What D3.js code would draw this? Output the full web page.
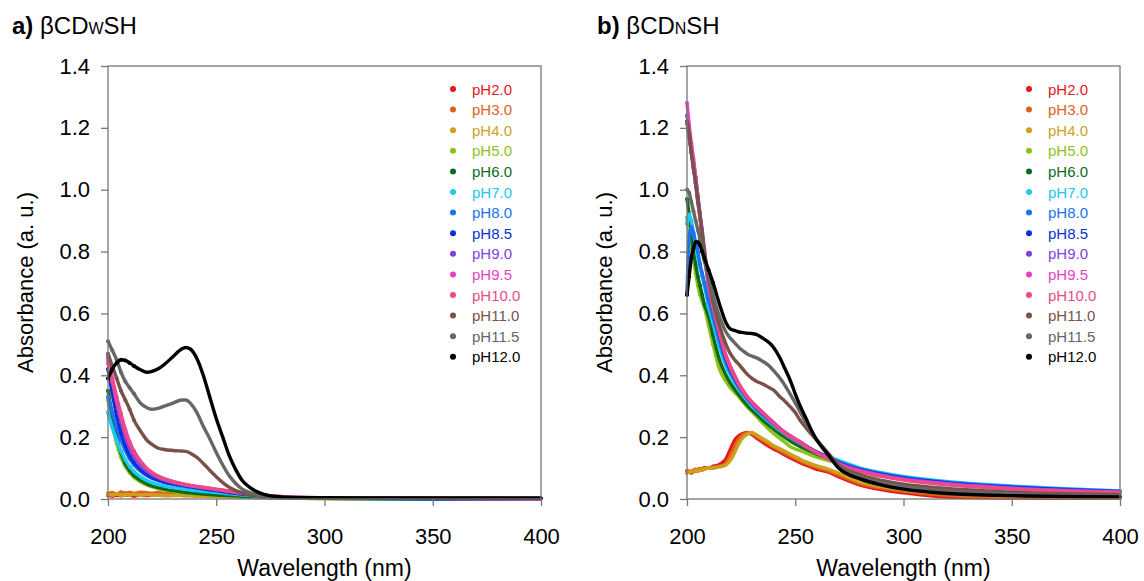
<!DOCTYPE html>
<html>
<head>
<meta charset="utf-8">
<script src="https://cdn.jsdelivr.net/npm/d3@7"></script>
<style>
  html, body { margin: 0; padding: 0; background: #fff; }
  svg { display: block; font-family: "Liberation Sans", Arial, Helvetica, sans-serif; }
</style>
</head>
<body>
<svg id="chart" width="1144" height="581"></svg>
<script>
const seriesNames = ['pH2.0', 'pH3.0', 'pH4.0', 'pH5.0', 'pH6.0', 'pH7.0', 'pH8.0', 'pH8.5',
  'pH9.0', 'pH9.5', 'pH10.0', 'pH11.0', 'pH11.5', 'pH12.0'];
const seriesColors = ['#e3191c', '#e0621a', '#cf9f1e', '#8cc21c', '#0b6b1a', '#1ec8f5', '#1a73f0',
  '#0b2fd6', '#8340e0', '#e83fc0', '#ec4a87', '#7a5148', '#666666', '#000000'];

const xTicks = [200, 250, 300, 350, 400];
const yTicks = [0, 0.2, 0.4, 0.6, 0.8, 1.0, 1.2, 1.4];

// panel a: βCDWSH
const wavelengthA = [200, 202, 204, 206, 208, 210, 212, 215, 218, 220, 223, 226, 230, 234, 236,
  238, 241, 244, 247, 250, 253, 256, 259, 262, 265, 270, 275, 280, 290, 300, 350, 400];
const absA = [
  [0.012, 0.010, 0.012, 0.011, 0.013, 0.012, 0.010, 0.012, 0.011, 0.013, 0.012, 0.011, 0.012, 0.012, 0.011, 0.012, 0.011, 0.011, 0.010, 0.010, 0.010, 0.009, 0.009, 0.008, 0.008, 0.007, 0.006, 0.005, 0.003, 0.002, 0.001, 0.001],
  [0.018, 0.020, 0.016, 0.022, 0.019, 0.021, 0.018, 0.022, 0.020, 0.019, 0.021, 0.018, 0.017, 0.016, 0.015, 0.014, 0.013, 0.012, 0.011, 0.010, 0.009, 0.008, 0.007, 0.006, 0.006, 0.005, 0.004, 0.003, 0.002, 0.002, 0.001, 0.001],
  [0.015, 0.013, 0.016, 0.012, 0.014, 0.013, 0.015, 0.012, 0.014, 0.013, 0.012, 0.012, 0.011, 0.011, 0.010, 0.010, 0.009, 0.009, 0.008, 0.008, 0.007, 0.007, 0.006, 0.006, 0.005, 0.005, 0.004, 0.003, 0.002, 0.001, 0.001, 0.001],
  [0.32, 0.24, 0.18, 0.135, 0.105, 0.085, 0.07, 0.055, 0.045, 0.04, 0.034, 0.03, 0.025, 0.021, 0.02, 0.018, 0.016, 0.015, 0.013, 0.012, 0.011, 0.01, 0.009, 0.008, 0.007, 0.006, 0.005, 0.004, 0.003, 0.002, 0.001, 0.001],
  [0.35, 0.27, 0.20, 0.15, 0.115, 0.092, 0.076, 0.06, 0.049, 0.043, 0.037, 0.032, 0.027, 0.023, 0.021, 0.02, 0.018, 0.016, 0.014, 0.013, 0.012, 0.011, 0.01, 0.009, 0.008, 0.006, 0.005, 0.004, 0.003, 0.002, 0.001, 0.001],
  [0.28, 0.23, 0.19, 0.155, 0.127, 0.105, 0.089, 0.072, 0.06, 0.054, 0.047, 0.042, 0.037, 0.033, 0.031, 0.029, 0.027, 0.025, 0.023, 0.021, 0.019, 0.017, 0.015, 0.013, 0.012, 0.009, 0.007, 0.005, 0.003, 0.002, 0.001, 0.001],
  [0.33, 0.28, 0.23, 0.19, 0.157, 0.13, 0.11, 0.09, 0.075, 0.068, 0.06, 0.054, 0.048, 0.043, 0.041, 0.039, 0.036, 0.033, 0.03, 0.027, 0.024, 0.021, 0.018, 0.016, 0.014, 0.011, 0.008, 0.006, 0.004, 0.003, 0.001, 0.001],
  [0.42, 0.34, 0.27, 0.215, 0.172, 0.14, 0.118, 0.095, 0.078, 0.07, 0.062, 0.055, 0.049, 0.044, 0.042, 0.039, 0.036, 0.033, 0.03, 0.027, 0.024, 0.021, 0.018, 0.016, 0.014, 0.011, 0.008, 0.006, 0.004, 0.003, 0.001, 0.001],
  [0.46, 0.38, 0.31, 0.25, 0.20, 0.165, 0.138, 0.11, 0.09, 0.08, 0.069, 0.061, 0.053, 0.047, 0.045, 0.042, 0.039, 0.036, 0.033, 0.03, 0.027, 0.024, 0.021, 0.018, 0.016, 0.012, 0.009, 0.007, 0.004, 0.003, 0.002, 0.001],
  [0.45, 0.39, 0.33, 0.275, 0.225, 0.185, 0.155, 0.123, 0.099, 0.088, 0.075, 0.066, 0.057, 0.05, 0.047, 0.044, 0.041, 0.038, 0.035, 0.032, 0.029, 0.026, 0.023, 0.02, 0.018, 0.014, 0.011, 0.008, 0.005, 0.003, 0.002, 0.001],
  [0.44, 0.38, 0.32, 0.265, 0.218, 0.18, 0.15, 0.12, 0.097, 0.086, 0.073, 0.064, 0.055, 0.049, 0.046, 0.043, 0.04, 0.037, 0.034, 0.031, 0.028, 0.025, 0.022, 0.019, 0.017, 0.013, 0.01, 0.007, 0.004, 0.003, 0.002, 0.001],
  [0.47, 0.43, 0.39, 0.35, 0.32, 0.29, 0.255, 0.22, 0.19, 0.178, 0.165, 0.16, 0.157, 0.155, 0.154, 0.148, 0.135, 0.115, 0.093, 0.072, 0.053, 0.038, 0.027, 0.02, 0.015, 0.01, 0.007, 0.005, 0.003, 0.003, 0.002, 0.002],
  [0.51, 0.48, 0.45, 0.41, 0.38, 0.36, 0.34, 0.31, 0.295, 0.29, 0.293, 0.30, 0.31, 0.32, 0.32, 0.31, 0.28, 0.235, 0.195, 0.15, 0.11, 0.075, 0.05, 0.032, 0.022, 0.012, 0.008, 0.006, 0.004, 0.003, 0.002, 0.002],
  [0.39, 0.42, 0.44, 0.45, 0.448, 0.44, 0.43, 0.418, 0.41, 0.412, 0.42, 0.435, 0.46, 0.485, 0.49, 0.485, 0.455, 0.40, 0.33, 0.26, 0.20, 0.14, 0.095, 0.06, 0.04, 0.02, 0.01, 0.007, 0.005, 0.004, 0.003, 0.003]
];

// panel b: βCDNSH
const wavelengthB = [200, 201, 202, 203, 204, 205, 206, 207, 208, 210, 212, 215, 218, 220, 222, 224,
  226, 228, 230, 232, 235, 238, 240, 243, 245, 248, 250, 252, 255, 258, 260, 265, 270, 280, 290,
  300, 320, 350, 400];
const absB = [
  [0.09, 0.088, 0.085, 0.09, 0.095, 0.092, 0.098, 0.095, 0.10, 0.10, 0.105, 0.112, 0.13, 0.16, 0.19, 0.205, 0.212, 0.215, 0.208, 0.198, 0.183, 0.17, 0.162, 0.151, 0.143, 0.132, 0.125, 0.118, 0.109, 0.101, 0.096, 0.088, 0.072, 0.045, 0.03, 0.02, 0.006, 0.003, 0.002],
  [0.085, 0.09, 0.088, 0.092, 0.09, 0.095, 0.093, 0.097, 0.098, 0.10, 0.102, 0.106, 0.115, 0.14, 0.17, 0.195, 0.208, 0.214, 0.211, 0.203, 0.189, 0.176, 0.168, 0.157, 0.149, 0.138, 0.131, 0.124, 0.115, 0.107, 0.102, 0.092, 0.078, 0.05, 0.035, 0.025, 0.012, 0.006, 0.004],
  [0.085, 0.087, 0.09, 0.088, 0.093, 0.09, 0.095, 0.094, 0.097, 0.10, 0.10, 0.104, 0.11, 0.125, 0.15, 0.18, 0.20, 0.21, 0.215, 0.208, 0.195, 0.182, 0.172, 0.162, 0.155, 0.144, 0.137, 0.13, 0.12, 0.112, 0.107, 0.097, 0.084, 0.055, 0.04, 0.03, 0.018, 0.01, 0.006],
  [0.91, 0.86, 0.81, 0.77, 0.73, 0.69, 0.66, 0.64, 0.62, 0.56, 0.50, 0.42, 0.38, 0.36, 0.345, 0.33, 0.312, 0.296, 0.282, 0.268, 0.245, 0.224, 0.212, 0.195, 0.185, 0.168, 0.162, 0.157, 0.149, 0.14, 0.135, 0.125, 0.115, 0.092, 0.077, 0.065, 0.05, 0.036, 0.022],
  [0.97, 0.92, 0.86, 0.80, 0.76, 0.72, 0.69, 0.66, 0.63, 0.59, 0.53, 0.45, 0.40, 0.375, 0.355, 0.336, 0.318, 0.302, 0.288, 0.275, 0.255, 0.237, 0.226, 0.21, 0.2, 0.186, 0.178, 0.171, 0.161, 0.151, 0.145, 0.131, 0.117, 0.094, 0.079, 0.067, 0.052, 0.038, 0.024],
  [0.89, 0.92, 0.90, 0.86, 0.82, 0.78, 0.75, 0.72, 0.69, 0.62, 0.57, 0.49, 0.43, 0.40, 0.375, 0.353, 0.334, 0.316, 0.30, 0.287, 0.267, 0.249, 0.237, 0.221, 0.211, 0.197, 0.189, 0.181, 0.17, 0.159, 0.152, 0.138, 0.125, 0.10, 0.085, 0.073, 0.057, 0.042, 0.026],
  [0.66, 0.85, 0.88, 0.86, 0.83, 0.80, 0.76, 0.73, 0.70, 0.64, 0.59, 0.51, 0.44, 0.41, 0.384, 0.36, 0.34, 0.322, 0.306, 0.292, 0.272, 0.253, 0.241, 0.224, 0.213, 0.199, 0.19, 0.182, 0.17, 0.158, 0.151, 0.135, 0.12, 0.097, 0.082, 0.07, 0.054, 0.04, 0.025],
  [1.22, 1.17, 1.12, 1.07, 1.02, 0.96, 0.91, 0.85, 0.79, 0.69, 0.62, 0.53, 0.455, 0.42, 0.392, 0.366, 0.345, 0.326, 0.31, 0.296, 0.276, 0.257, 0.245, 0.227, 0.216, 0.202, 0.193, 0.185, 0.172, 0.159, 0.152, 0.135, 0.118, 0.095, 0.08, 0.068, 0.052, 0.038, 0.024],
  [1.24, 1.19, 1.14, 1.09, 1.04, 0.98, 0.92, 0.87, 0.81, 0.70, 0.63, 0.54, 0.462, 0.428, 0.398, 0.37, 0.348, 0.328, 0.312, 0.298, 0.278, 0.258, 0.246, 0.227, 0.216, 0.202, 0.193, 0.185, 0.171, 0.158, 0.15, 0.133, 0.116, 0.093, 0.078, 0.066, 0.05, 0.036, 0.023],
  [1.28, 1.21, 1.15, 1.10, 1.04, 0.98, 0.92, 0.86, 0.80, 0.70, 0.63, 0.54, 0.465, 0.43, 0.40, 0.372, 0.35, 0.33, 0.314, 0.30, 0.28, 0.26, 0.247, 0.228, 0.217, 0.203, 0.194, 0.186, 0.172, 0.158, 0.15, 0.133, 0.114, 0.09, 0.075, 0.063, 0.048, 0.034, 0.022],
  [1.22, 1.17, 1.13, 1.08, 1.03, 0.97, 0.91, 0.85, 0.79, 0.69, 0.62, 0.535, 0.46, 0.425, 0.395, 0.368, 0.346, 0.327, 0.311, 0.297, 0.277, 0.257, 0.244, 0.225, 0.214, 0.2, 0.191, 0.183, 0.169, 0.156, 0.148, 0.131, 0.112, 0.088, 0.073, 0.061, 0.046, 0.032, 0.02],
  [1.22, 1.18, 1.12, 1.07, 1.02, 0.97, 0.92, 0.86, 0.80, 0.71, 0.64, 0.56, 0.50, 0.47, 0.45, 0.435, 0.418, 0.402, 0.39, 0.381, 0.372, 0.36, 0.352, 0.33, 0.318, 0.296, 0.28, 0.257, 0.23, 0.205, 0.19, 0.15, 0.11, 0.078, 0.06, 0.048, 0.034, 0.022, 0.014],
  [1.0, 0.99, 0.96, 0.93, 0.90, 0.87, 0.84, 0.80, 0.77, 0.72, 0.66, 0.59, 0.54, 0.52, 0.505, 0.49, 0.478, 0.468, 0.462, 0.457, 0.445, 0.43, 0.415, 0.39, 0.37, 0.335, 0.31, 0.285, 0.245, 0.21, 0.19, 0.145, 0.105, 0.072, 0.053, 0.04, 0.027, 0.017, 0.01],
  [0.66, 0.72, 0.78, 0.81, 0.83, 0.83, 0.82, 0.80, 0.78, 0.74, 0.70, 0.63, 0.57, 0.55, 0.545, 0.54, 0.538, 0.536, 0.535, 0.532, 0.52, 0.505, 0.49, 0.455, 0.425, 0.378, 0.34, 0.305, 0.26, 0.215, 0.19, 0.145, 0.1, 0.065, 0.045, 0.032, 0.018, 0.011, 0.007]
];

const svg = d3.select('#chart');
const fontSize = 22;

function drawPanel({ left, right, top, bottom, wavelengths, values, label, sub, titleX, legendX }) {
  const x = d3.scaleLinear().domain([200, 400]).range([left, right]);
  const y = d3.scaleLinear().domain([0, 1.4]).range([bottom, top]);
  const g = svg.append('g');

  const line = d3.line()
    .x((d) => x(d[0]))
    .y((d) => y(d[1]))
    .curve(d3.curveMonotoneX);

  const curves = g.append('g');
  values.forEach((vals, i) => {
    const pts = wavelengths.map((w, j) => [w, vals[j]]);
    curves.append('path')
      .attr('d', line(pts))
      .attr('fill', 'none')
      .attr('stroke', seriesColors[i])
      .attr('stroke-width', 3.4)
      .attr('stroke-linecap', 'round')
      .attr('stroke-linejoin', 'round');
    curves.selectAll(null)
      .data(pts.filter((p) => p[0] <= 212))
      .join('circle')
      .attr('cx', (d) => x(d[0]))
      .attr('cy', (d) => y(d[1]))
      .attr('r', 2)
      .attr('fill', seriesColors[i]);
  });

  // frame
  g.append('rect')
    .attr('x', left).attr('y', top)
    .attr('width', right - left).attr('height', bottom - top)
    .attr('fill', 'none').attr('stroke', '#777').attr('stroke-width', 1.3);

  const yAxis = g.append('g')
    .attr('transform', `translate(${left},0)`)
    .call(d3.axisLeft(y).tickValues(yTicks).tickFormat(d3.format('.1f')).tickSize(7).tickPadding(11));
  const xAxis = g.append('g')
    .attr('transform', `translate(0,${bottom})`)
    .call(d3.axisBottom(x).tickValues(xTicks).tickSize(7).tickPadding(22));
  [xAxis, yAxis].forEach((ax) => {
    ax.select('.domain').remove();
    ax.selectAll('line').attr('stroke', '#777').attr('stroke-width', 1.3);
    ax.selectAll('text').attr('fill', '#000').style('font-size', `${fontSize}px`)
      .style('font-family', '"Liberation Sans", Arial, sans-serif');
  });

  g.append('text')
    .attr('x', (left + right) / 2).attr('y', 576)
    .attr('text-anchor', 'middle')
    .style('font-size', '23px')
    .text('Wavelength (nm)');

  g.append('text')
    .attr('transform', `translate(${left - 83},${(top + bottom) / 2}) rotate(-90)`)
    .attr('text-anchor', 'middle')
    .attr('dy', '0.35em')
    .style('font-size', '22px')
    .text('Absorbance (a. u.)');

  const title = g.append('text')
    .attr('x', titleX).attr('y', 34)
    .style('font-size', '24px');
  title.append('tspan').attr('font-weight', 'bold').text(label + ' ');
  title.append('tspan').text('βCD');
  title.append('tspan').style('font-size', '16px').text(sub);
  title.append('tspan').text('SH');

  const legend = g.append('g');
  seriesNames.forEach((name, i) => {
    const cy = 89 + i * 20.6;
    legend.append('circle')
      .attr('cx', legendX).attr('cy', cy).attr('r', 3)
      .attr('fill', seriesColors[i]);
    legend.append('text')
      .attr('x', legendX + 19).attr('y', cy + 5.5)
      .attr('fill', seriesColors[i])
      .style('font-size', '15px')
      .text(name);
  });
}

drawPanel({ left: 108, right: 541, top: 66, bottom: 499, wavelengths: wavelengthA, values: absA,
  label: 'a)', sub: 'W', titleX: 12, legendX: 453 });
drawPanel({ left: 687, right: 1120, top: 66, bottom: 499, wavelengths: wavelengthB, values: absB,
  label: 'b)', sub: 'N', titleX: 597, legendX: 1029 });
</script>
</body>
</html>
